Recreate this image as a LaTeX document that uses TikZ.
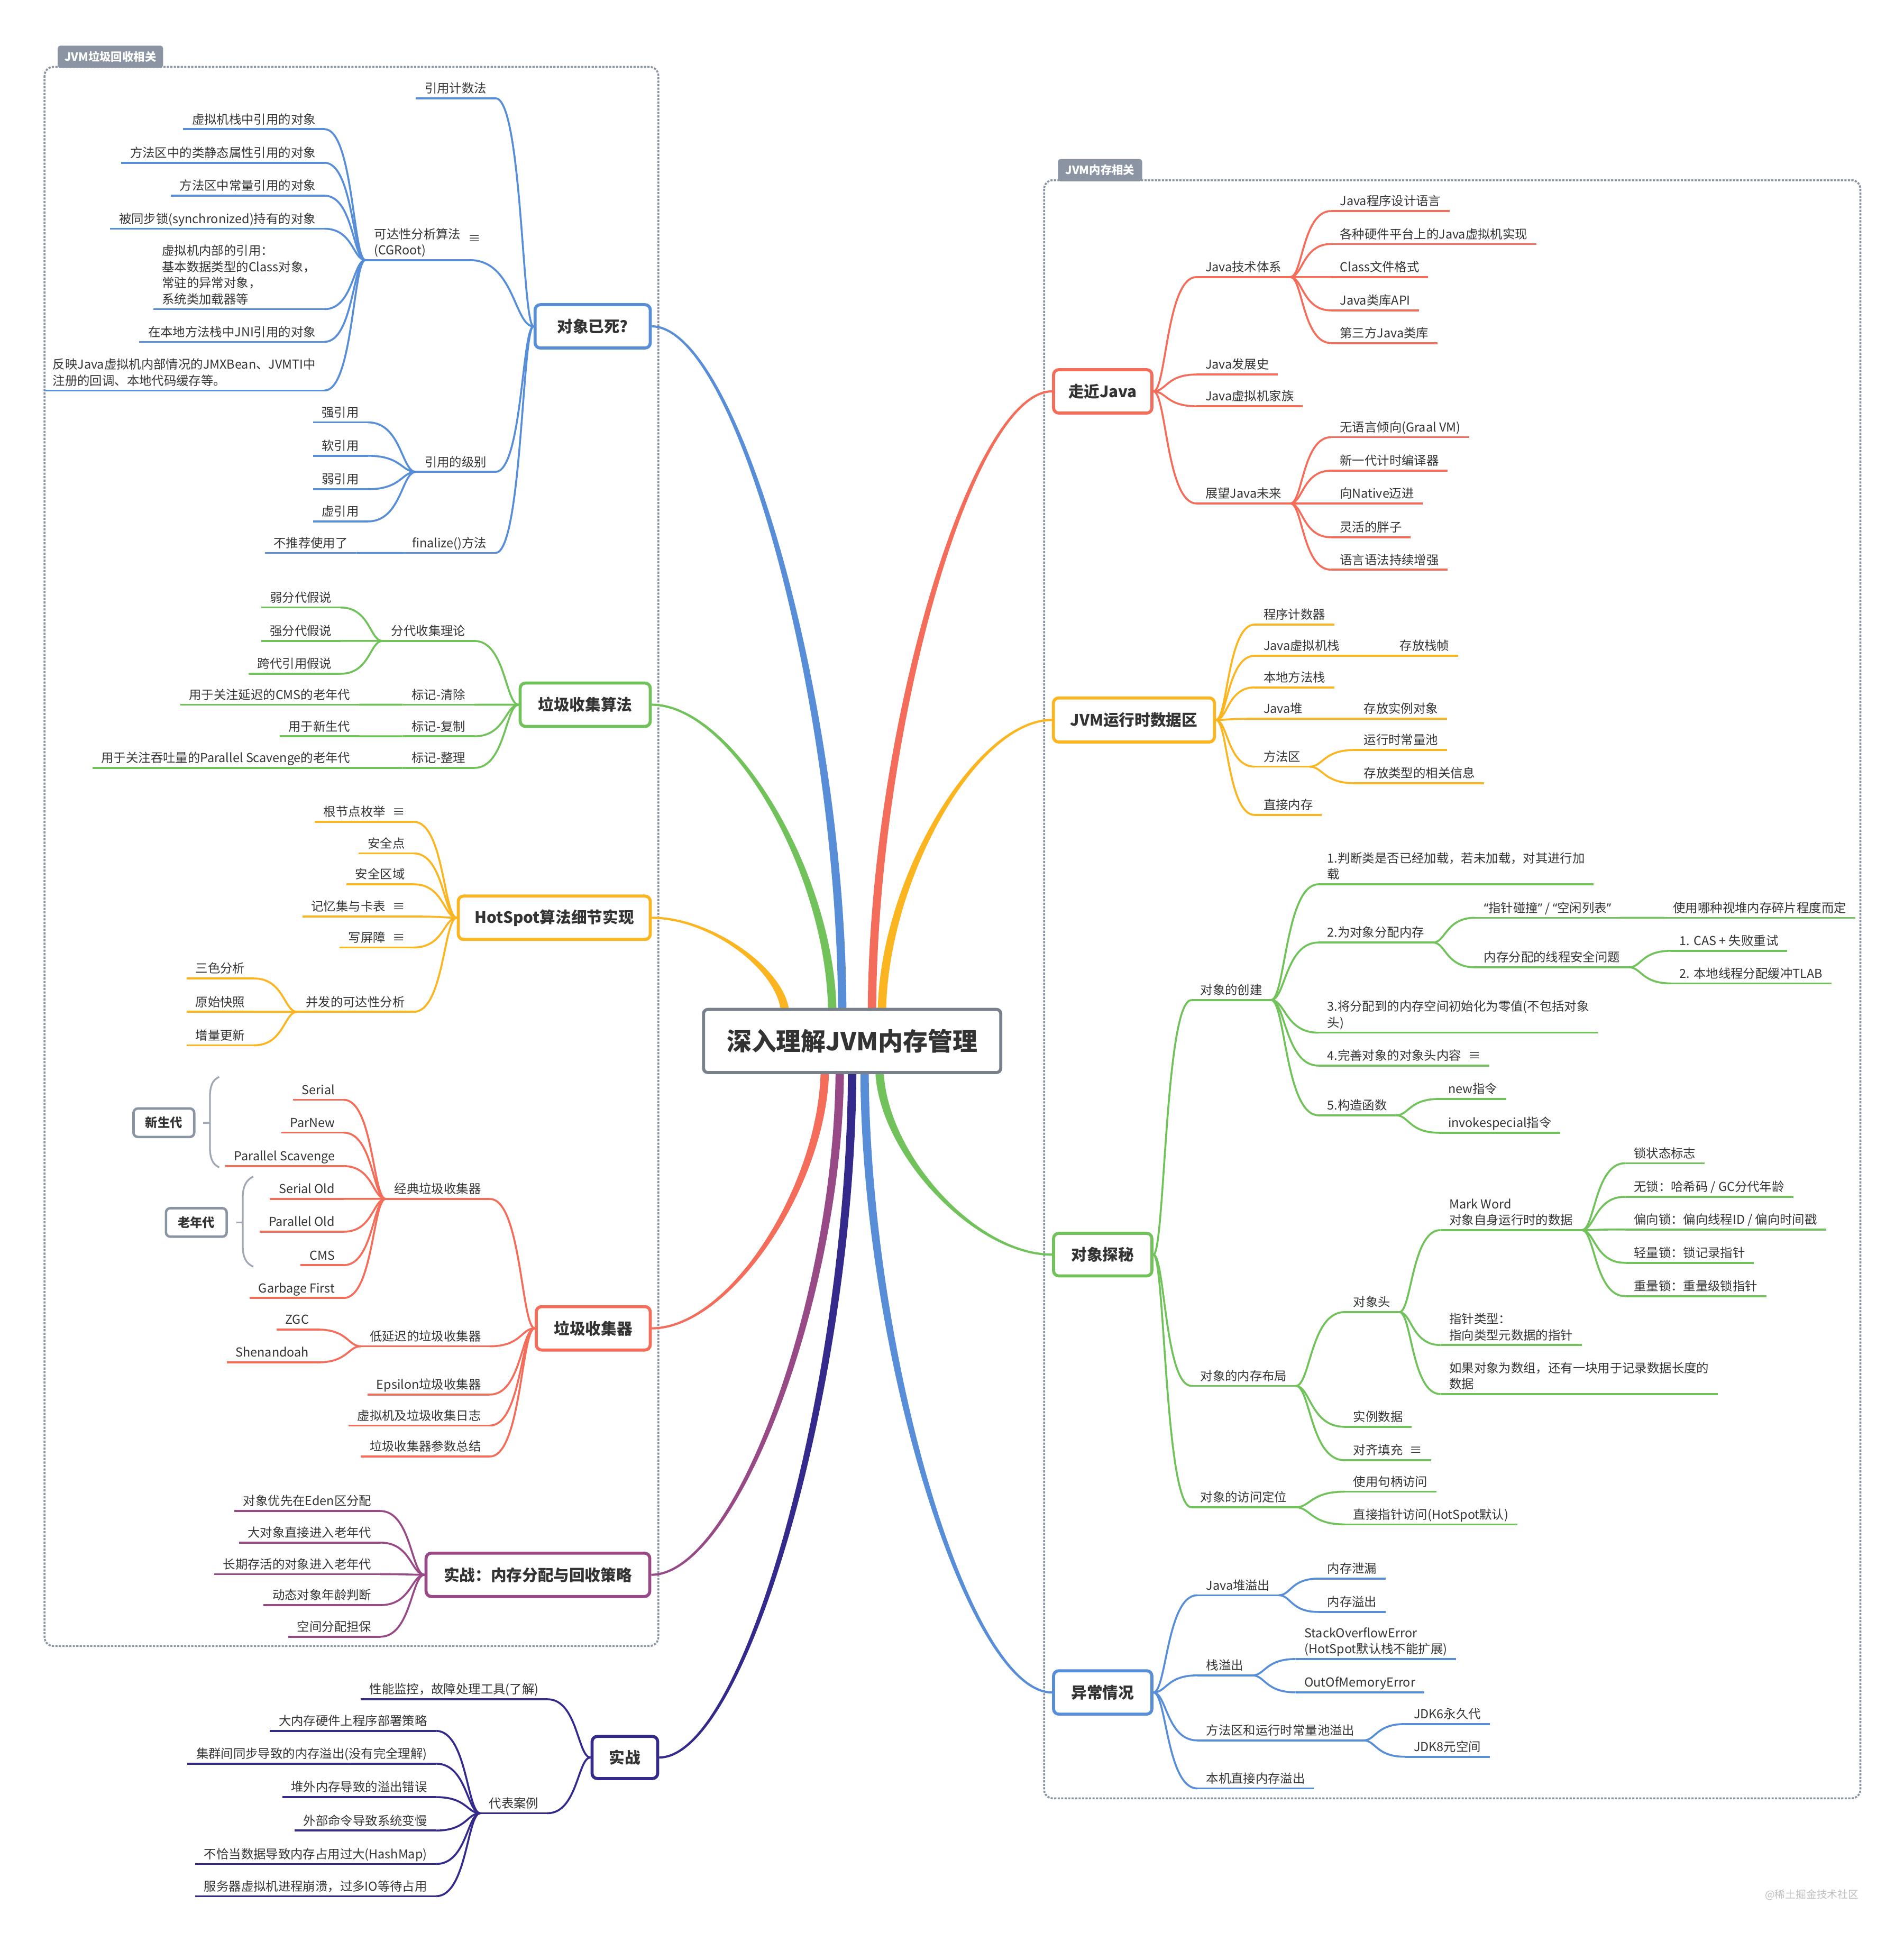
\documentclass[tikz,border=0pt]{standalone}
\usepackage{fontspec}
\setmainfont{Noto Sans CJK SC}
\newfontfamily\quotefont{Noto Sans}
\usepackage{xcolor}
\usepackage{tikz}
\usetikzlibrary{calc}
\definecolor{textgray}{RGB}{51, 51, 51}
\definecolor{framegray}{RGB}{138, 148, 162}
\definecolor{bracegray}{RGB}{160, 168, 180}
\definecolor{hubgray}{RGB}{120, 128, 140}
\definecolor{branchblue}{RGB}{88, 142, 215}
\definecolor{branchgreen}{RGB}{114, 194, 92}
\definecolor{branchorange}{RGB}{250, 181, 32}
\definecolor{branchred}{RGB}{244, 108, 90}
\definecolor{branchpurple}{RGB}{152, 74, 134}
\definecolor{branchindigo}{RGB}{52, 42, 140}
\newcommand\leaffont{\fontsize{14.2pt}{18.5pt}\selectfont}
\newcommand\topicfont{\fontsize{18pt}{22pt}\selectfont\bfseries}
\newcommand\hubfont{\fontsize{28.5pt}{34pt}\selectfont\bfseries}
\newcommand\tabfont{\fontsize{13pt}{15pt}\selectfont\bfseries}

\begin{document}
\begin{tikzpicture}[
    x=0.05cm, y=-0.05cm,
    leaf/.style={font=\leaffont, text=textgray, inner xsep=10pt, inner ysep=4pt, text depth=2pt,
                 append after command={(\tikzlastnode.south west) edge[underl] (\tikzlastnode.south east)}},
    leafL/.style={leaf, anchor=south east},
    leafR/.style={leaf, anchor=south west},
    underl/.style={draw, line width=2.2pt},
    branch/.style={draw, line width=2.2pt,
                   to path={.. controls ($(\tikztostart)!0.3!(\tikztostart-|\tikztotarget)$)
                            and ($(\tikztostart|-\tikztotarget)!0.3!(\tikztotarget)$) .. (\tikztotarget)}},
    trunkline/.style={line width=2.5pt,
                   to path={($(\tikztostart)+(-2.5,0)$)
                            .. controls ($(\tikztostart)!0.45!(\tikztostart|-\tikztotarget)+(-2.5,0)$)
                            and ($(\tikztotarget)!0.45!(\tikztotarget-|\tikztostart)$) .. (\tikztotarget)
                            .. controls ($(\tikztotarget)!0.45!(\tikztotarget-|\tikztostart)$)
                            and ($(\tikztostart)!0.45!(\tikztostart|-\tikztotarget)+(2.5,0)$) .. ($(\tikztostart)+(2.5,0)$) -- cycle}},
    topicbox/.style={draw, line width=3.5pt, rounded corners=6pt, fill=white, font=\topicfont,
                     text=textgray, minimum height=1.75cm},
    hubbox/.style={draw=hubgray, line width=3.5pt, rounded corners=5pt, fill=white, font=\hubfont,
                   text=textgray, minimum width=12cm, minimum height=2.55cm},
    agebox/.style={draw=framegray, line width=2.8pt, rounded corners=5pt, fill=white,
                   font=\leaffont\bfseries, text=textgray, minimum width=2.45cm, minimum height=1.15cm},
    genbracket/.style={draw=bracegray, line width=2pt},
    notemark/.style={font=\leaffont, text=textgray, inner sep=0pt},
    groupframe/.style={draw=framegray, line width=2.2pt, dash pattern=on 2.5pt off 1.5pt, rounded corners=10pt},
    grouptab/.style={fill=framegray, text=white, font=\tabfont, rounded corners=3pt, minimum height=0.9cm,
                     inner xsep=4pt, anchor=south west}
]
    \useasboundingbox (0,0) rectangle (1537,1568);

    % Group frames
    \draw[groupframe] (36,54) rectangle (531.5,1329);
    \draw[groupframe] (843,145.5) rectangle (1502,1452);
    \node[grouptab, minimum width=4.25cm] (tabgc) at (46.5,55) {JVM垃圾回收相关};
    \node[grouptab, minimum width=3.4cm] (tabmem) at (854,146.5) {JVM内存相关};

    % Object dead?
    \begin{scope}[color=branchblue]
    \node[topicbox, minimum width=4.65cm] (dead) at (478.5,263.5) {对象已死?};
    \node[leafL] (refcnt) at (400,79.3) {引用计数法};
    \node[leafR, align=left] (gcroot) at (295,210) {可达性分析算法\\(CGRoot)};
    \node[notemark] (gcnote) at (383,193) {≡};
    \node[leafL] (reflvl) at (400,381) {引用的级别};
    \node[leafL] (final) at (400,446.5) {finalize()方法};
    \node[leafL] (root1) at (262,104.3) {虚拟机栈中引用的对象};
    \node[leafL] (root2) at (262,131.4) {方法区中的类静态属性引用的对象};
    \node[leafL] (root3) at (262,158) {方法区中常量引用的对象};
    \node[leafL] (root4) at (262,184.7) {被同步锁(synchronized)持有的对象};
    \node[leafL, align=left] (root5) at (262,249.6) {虚拟机内部的引用：\\基本数据类型的Class对象，\\常驻的异常对象，\\系统类加载器等};
    \node[leafL] (root6) at (262,276) {在本地方法栈中JNI引用的对象};
    \node[leafL, align=left] (root7) at (262,315.3) {反映Java虚拟机内部情况的JMXBean、JVMTI中\\注册的回调、本地代码缓存等。};
    \node[leafL] (strong) at (297,341) {强引用};
    \node[leafL] (soft) at (297,368) {软引用};
    \node[leafL] (weak) at (297,395) {弱引用};
    \node[leafL] (phantom) at (297,421) {虚引用};
    \node[leafL] (nofinal) at (288,446.5) {不推荐使用了};
    \path (dead.west) edge[branch] (refcnt.south east) edge[branch] (gcroot.south east)
          edge[branch] (reflvl.south east) edge[branch] (final.south east);
    \path (gcroot.south west) edge[branch] (root1.south east) edge[branch] (root2.south east)
          edge[branch] (root3.south east) edge[branch] (root4.south east) edge[branch] (root5.south east)
          edge[branch] (root6.south east) edge[branch] (root7.south east);
    \path (reflvl.south west) edge[branch] (strong.south east) edge[branch] (soft.south east)
          edge[branch] (weak.south east) edge[branch] (phantom.south east);
    \path (final.south west) edge[branch] (nofinal.south east);
    \end{scope}

    % GC algorithms
    \begin{scope}[color=branchgreen]
    \node[topicbox, minimum width=5.25cm] (algo) at (472.5,569) {垃圾收集算法};
    \node[leafL] (gentheory) at (383,517.5) {分代收集理论};
    \node[leafL] (msweep) at (383,569) {标记-清除};
    \node[leafL] (mcopy) at (383,594.5) {标记-复制};
    \node[leafL] (mcompact) at (383,620) {标记-整理};
    \node[leafL] (weakgen) at (275,490.5) {弱分代假说};
    \node[leafL] (stronggen) at (275,517.5) {强分代假说};
    \node[leafL] (crossgen) at (275,544) {跨代引用假说};
    \node[leafL] (forcms) at (290,569) {用于关注延迟的CMS的老年代};
    \node[leafL] (foryoung) at (290,594.5) {用于新生代};
    \node[leafL] (forps) at (290,620) {用于关注吞吐量的Parallel Scavenge的老年代};
    \path (algo.west) edge[branch] (gentheory.south east) edge[branch] (msweep.south east)
          edge[branch] (mcopy.south east) edge[branch] (mcompact.south east);
    \path (gentheory.south west) edge[branch] (weakgen.south east) edge[branch] (stronggen.south east)
          edge[branch] (crossgen.south east);
    \path (msweep.south west) edge[branch] (forcms.south east);
    \path (mcopy.south west) edge[branch] (foryoung.south east);
    \path (mcompact.south west) edge[branch] (forps.south east);
    \end{scope}

    % HotSpot details
    \begin{scope}[color=branchorange]
    \node[topicbox, minimum width=7.75cm] (hotspot) at (447.5,741) {HotSpot算法细节实现};
    \node[leafL] (rootenum) at (334,663.5) {根节点枚举\hspace{8pt}≡};
    \node[leafL] (safept) at (334,689) {安全点};
    \node[leafL] (safereg) at (334,714) {安全区域};
    \node[leafL] (remset) at (334,740) {记忆集与卡表\hspace{8pt}≡};
    \node[leafL] (wbarrier) at (334,765) {写屏障\hspace{8pt}≡};
    \node[leafL] (concur) at (334,817) {并发的可达性分析};
    \node[leafL] (tricolor) at (205,790) {三色分析};
    \node[leafL] (snapshot) at (205,817) {原始快照};
    \node[leafL] (incupd) at (205,844) {增量更新};
    \path (hotspot.west) edge[branch] (rootenum.south east) edge[branch] (safept.south east)
          edge[branch] (safereg.south east) edge[branch] (remset.south east)
          edge[branch] (wbarrier.south east) edge[branch] (concur.south east);
    \path (concur.south west) edge[branch] (tricolor.south east) edge[branch] (snapshot.south east)
          edge[branch] (incupd.south east);
    \end{scope}

    % Garbage collectors
    \begin{scope}[color=branchred]
    \node[topicbox, minimum width=4.6cm] (collector) at (479,1072.5) {垃圾收集器};
    \node[leafL] (classic) at (395.5,968) {经典垃圾收集器};
    \node[leafL] (lowlat) at (395.5,1087) {低延迟的垃圾收集器};
    \node[leafL] (epsilon) at (395.5,1126) {Epsilon垃圾收集器};
    \node[leafL] (gclog) at (395.5,1151) {虚拟机及垃圾收集日志};
    \node[leafL] (gcparam) at (395.5,1176) {垃圾收集器参数总结};
    \node[leafL] (serial) at (277.5,888) {Serial};
    \node[leafL] (parnew) at (277.5,914.5) {ParNew};
    \node[leafL] (pscav) at (277.5,941.5) {Parallel Scavenge};
    \node[leafL] (serialold) at (277.5,968) {Serial Old};
    \node[leafL] (parold) at (277.5,994.5) {Parallel Old};
    \node[leafL] (cms) at (277.5,1021.5) {CMS};
    \node[leafL] (gfirst) at (277.5,1048) {Garbage First};
    \node[leafL] (zgc) at (256.5,1073.5) {ZGC};
    \node[leafL] (shen) at (256.5,1100) {Shenandoah};
    \path (collector.west) edge[branch] (classic.south east) edge[branch] (lowlat.south east)
          edge[branch] (epsilon.south east) edge[branch] (gclog.south east) edge[branch] (gcparam.south east);
    \path (classic.south west) edge[branch] (serial.south east) edge[branch] (parnew.south east)
          edge[branch] (pscav.south east) edge[branch] (serialold.south east) edge[branch] (parold.south east)
          edge[branch] (cms.south east) edge[branch] (gfirst.south east);
    \path (lowlat.south west) edge[branch] (zgc.south east) edge[branch] (shen.south east);
    % generations
    \node[agebox] (young) at (132.3,906.5) {新生代};
    \node[agebox] (old) at (158.5,987) {老年代};
    \coordinate (youngtip) at (169.5,906.5);
    \coordinate (oldtip) at (196,987);
    \draw[genbracket] (177,869.5) .. controls (171,872) and (169.5,878) .. (169.5,886) -- (169.5,926)
        .. controls (169.5,934) and (171,940) .. (177,942.5);
    \draw[genbracket] (204.5,950) .. controls (198,953) and (196,959) .. (196,967) -- (196,1006)
        .. controls (196,1014) and (198,1020) .. (204.5,1022.7);
    \draw[genbracket, shorten <=9pt] (young.east) -- (youngtip);
    \draw[genbracket, shorten <=10pt] (old.east) -- (oldtip);
    \end{scope}

    % Allocation practice
    \begin{scope}[color=branchpurple]
    \node[topicbox, minimum width=9.03cm] (alloc) at (434.3,1271.5) {实战：内存分配与回收策略};
    \node[leafL] (eden) at (307,1220) {对象优先在Eden区分配};
    \node[leafL] (bigobj) at (307,1245.5) {大对象直接进入老年代};
    \node[leafL] (longlive) at (307,1271) {长期存活的对象进入老年代};
    \node[leafL] (dynage) at (307,1296) {动态对象年龄判断};
    \node[leafL] (guarantee) at (307,1321.5) {空间分配担保};
    \path (alloc.west) edge[branch] (eden.south east) edge[branch] (bigobj.south east)
          edge[branch] (longlive.south east) edge[branch] (dynage.south east) edge[branch] (guarantee.south east);
    \end{scope}

    % Practice
    \begin{scope}[color=branchindigo]
    \node[topicbox, minimum width=2.65cm, minimum height=1.7cm] (practice) at (504.5,1419) {实战};
    \node[leafL] (perf) at (442,1372) {性能监控，故障处理工具(了解)};
    \node[leafL] (cases) at (442,1464) {代表案例};
    \node[leafL] (case1) at (352,1397.5) {大内存硬件上程序部署策略};
    \node[leafL] (case2) at (352,1424) {集群间同步导致的内存溢出(没有完全理解)};
    \node[leafL] (case3) at (352,1451) {堆外内存导致的溢出错误};
    \node[leafL] (case4) at (352,1478) {外部命令导致系统变慢};
    \node[leafL] (case5) at (352,1505) {不恰当数据导致内存占用过大(HashMap)};
    \node[leafL] (case6) at (352,1531) {服务器虚拟机进程崩溃，过多IO等待占用};
    \path (practice.west) edge[branch] (perf.south east) edge[branch] (cases.south east);
    \path (cases.south west) edge[branch] (case1.south east) edge[branch] (case2.south east)
          edge[branch] (case3.south east) edge[branch] (case4.south east) edge[branch] (case5.south east)
          edge[branch] (case6.south east);
    \end{scope}

    % Getting to know Java
    \begin{scope}[color=branchred]
    \node[topicbox, minimum width=3.97cm] (java) at (890.3,316) {走近Java};
    \node[leafR] (techsys) at (966,223.7) {Java技术体系};
    \node[leafR] (history) at (966,302.4) {Java发展史};
    \node[leafR] (vmfamily) at (966,328) {Java虚拟机家族};
    \node[leafR] (future) at (966,406.5) {展望Java未来};
    \node[leafR] (lang) at (1074.7,170.4) {Java程序设计语言};
    \node[leafR] (vmimpl) at (1074.7,197) {各种硬件平台上的Java虚拟机实现};
    \node[leafR] (classfmt) at (1074.7,223.7) {Class文件格式};
    \node[leafR] (api) at (1074.7,250.6) {Java类库API};
    \node[leafR] (thirdlib) at (1074.7,277) {第三方Java类库};
    \node[leafR] (graal) at (1074.7,353) {无语言倾向(Graal VM)};
    \node[leafR] (jit) at (1074.7,380) {新一代计时编译器};
    \node[leafR] (native) at (1074.7,406.5) {向Native迈进};
    \node[leafR] (fatty) at (1074.7,433.8) {灵活的胖子};
    \node[leafR] (syntax) at (1074.7,460) {语言语法持续增强};
    \path (java.east) edge[branch] (techsys.south west) edge[branch] (history.south west)
          edge[branch] (vmfamily.south west) edge[branch] (future.south west);
    \path (techsys.south east) edge[branch] (lang.south west) edge[branch] (vmimpl.south west)
          edge[branch] (classfmt.south west) edge[branch] (api.south west) edge[branch] (thirdlib.south west);
    \path (future.south east) edge[branch] (graal.south west) edge[branch] (jit.south west)
          edge[branch] (native.south west) edge[branch] (fatty.south west) edge[branch] (syntax.south west);
    \end{scope}

    % Runtime data areas
    \begin{scope}[color=branchorange]
    \node[topicbox, minimum width=6.5cm, minimum height=1.78cm] (rtdata) at (915.5,581.3) {JVM运行时数据区};
    \node[leafR] (pcreg) at (1013,504.3) {程序计数器};
    \node[leafR] (vmstack) at (1013,529.5) {Java虚拟机栈};
    \node[leafR] (frames) at (1123,529.5) {存放栈帧};
    \node[leafR] (natstack) at (1013,555) {本地方法栈};
    \node[leafR] (heap) at (1013,580.3) {Java堆};
    \node[leafR] (instobj) at (1094,580.3) {存放实例对象};
    \node[leafR] (metharea) at (1013,619) {方法区};
    \node[leafR] (cpool) at (1094,605.5) {运行时常量池};
    \node[leafR] (typeinfo) at (1094,632.4) {存放类型的相关信息};
    \node[leafR] (direct) at (1013,658) {直接内存};
    \path (rtdata.east) edge[branch] (pcreg.south west) edge[branch] (vmstack.south west)
          edge[branch] (natstack.south west) edge[branch] (heap.south west)
          edge[branch] (metharea.south west) edge[branch] (direct.south west);
    \path (vmstack.south east) edge[branch] (frames.south west);
    \path (heap.south east) edge[branch] (instobj.south west);
    \path (metharea.south east) edge[branch] (cpool.south west) edge[branch] (typeinfo.south west);
    \end{scope}

    % Objects
    \begin{scope}[color=branchgreen]
    \node[topicbox, minimum width=3.97cm, minimum height=1.72cm] (objsec) at (890.3,1013) {对象探秘};
    \node[leafR] (create) at (962,807.4) {对象的创建};
    \node[leafR] (layout) at (962,1119) {对象的内存布局};
    \node[leafR] (access) at (962,1217) {对象的访问定位};
    \node[leafR, align=left] (step1) at (1064.5,714) {1.判断类是否已经加载，若未加载，对其进行加\\载};
    \node[leafR] (step2) at (1064.5,761) {2.为对象分配内存};
    \node[leafR, align=left] (step3) at (1064.5,833.8) {3.将分配到的内存空间初始化为零值(不包括对象\\头)};
    \node[leafR] (step4) at (1064.5,860.4) {4.完善对象的对象头内容\hspace{8pt}≡};
    \node[leafR] (step5) at (1064.5,900.5) {5.构造函数};
    \node[leafR] (bump) at (1191,741) {{\quotefont “}指针碰撞{\quotefont ”} / {\quotefont “}空闲列表{\quotefont ”}};
    \node[leafR] (bumpdep) at (1343.7,741) {使用哪种视堆内存碎片程度而定};
    \node[leafR] (tsafe) at (1191,781) {内存分配的线程安全问题};
    \node[leafR] (casretry) at (1349,767.7) {1. CAS + 失败重试};
    \node[leafR] (tlab) at (1349,794) {2. 本地线程分配缓冲TLAB};
    \node[leafR] (newins) at (1162,887.3) {new指令};
    \node[leafR] (invoke) at (1162,914.6) {invokespecial指令};
    \node[leafR] (header) at (1085.5,1059.4) {对象头};
    \node[leafR] (instdata) at (1085.5,1152) {实例数据};
    \node[leafR] (padding) at (1085.5,1179) {对齐填充\hspace{8pt}≡};
    \node[leafR, align=left] (markword) at (1163,993.2) {Mark Word\\对象自身运行时的数据};
    \node[leafR, align=left] (klass) at (1163,1086) {指针类型：\\指向类型元数据的指针};
    \node[leafR, align=left] (arrlen) at (1163,1125.6) {如果对象为数组，还有一块用于记录数据长度的\\数据};
    \node[leafR] (lockflag) at (1312,939.2) {锁状态标志};
    \node[leafR] (nolock) at (1312,966.3) {无锁：哈希码 / GC分代年龄};
    \node[leafR] (biased) at (1312,992.7) {偏向锁：偏向线程ID / 偏向时间戳};
    \node[leafR] (light) at (1312,1019.6) {轻量锁：锁记录指针};
    \node[leafR] (heavy) at (1312,1046.5) {重量锁：重量级锁指针};
    \node[leafR] (handle) at (1085.5,1204.4) {使用句柄访问};
    \node[leafR] (dirptr) at (1085.5,1230.8) {直接指针访问(HotSpot默认)};
    \path (objsec.east) edge[branch] (create.south west) edge[branch] (layout.south west)
          edge[branch] (access.south west);
    \path (create.south east) edge[branch] (step1.south west) edge[branch] (step2.south west)
          edge[branch] (step3.south west) edge[branch] (step4.south west) edge[branch] (step5.south west);
    \path (step2.south east) edge[branch] (bump.south west) edge[branch] (tsafe.south west);
    \path (bump.south east) edge[branch] (bumpdep.south west);
    \path (tsafe.south east) edge[branch] (casretry.south west) edge[branch] (tlab.south west);
    \path (step5.south east) edge[branch] (newins.south west) edge[branch] (invoke.south west);
    \path (layout.south east) edge[branch] (header.south west) edge[branch] (instdata.south west)
          edge[branch] (padding.south west);
    \path (header.south east) edge[branch] (markword.south west) edge[branch] (klass.south west)
          edge[branch] (arrlen.south west);
    \path (markword.south east) edge[branch] (lockflag.south west) edge[branch] (nolock.south west)
          edge[branch] (biased.south west) edge[branch] (light.south west) edge[branch] (heavy.south west);
    \path (access.south east) edge[branch] (handle.south west) edge[branch] (dirptr.south west);
    \end{scope}

    % Exceptions
    \begin{scope}[color=branchblue]
    \node[topicbox, minimum width=3.97cm] (except) at (890.3,1366.5) {异常情况};
    \node[leafR] (heapoom) at (966.7,1288) {Java堆溢出};
    \node[leafR] (stackoom) at (966.7,1352.7) {栈溢出};
    \node[leafR] (methoom) at (966.7,1405.2) {方法区和运行时常量池溢出};
    \node[leafR] (directoom) at (966.7,1444) {本机直接内存溢出};
    \node[leafR] (leak) at (1064.5,1274.6) {内存泄漏};
    \node[leafR] (overflow) at (1064.5,1301.5) {内存溢出};
    \node[leafR, align=left] (soe) at (1046,1339.5) {StackOverflowError\\(HotSpot默认栈不能扩展)};
    \node[leafR] (oome) at (1046,1366.4) {OutOfMemoryError};
    \node[leafR] (jdk6) at (1134.3,1392) {JDK6永久代};
    \node[leafR] (jdk8) at (1134.3,1418.4) {JDK8元空间};
    \path (except.east) edge[branch] (heapoom.south west) edge[branch] (stackoom.south west)
          edge[branch] (methoom.south west) edge[branch] (directoom.south west);
    \path (heapoom.south east) edge[branch] (leak.south west) edge[branch] (overflow.south west);
    \path (stackoom.south east) edge[branch] (soe.south west) edge[branch] (oome.south west);
    \path (methoom.south east) edge[branch] (jdk6.south west) edge[branch] (jdk8.south west);
    \end{scope}

    % Trunks from the central topic
    \coordinate (topdead) at (680,820);
    \coordinate (topalgo) at (672,820);
    \coordinate (tophs) at (634,820);
    \coordinate (topjava) at (704,820);
    \coordinate (toprt) at (712,820);
    \coordinate (botgc) at (666,861);
    \coordinate (botalloc) at (678,861);
    \coordinate (botprac) at (688,861);
    \coordinate (botexc) at (698,861);
    \coordinate (botobj) at (710,861);
    \filldraw[trunkline, branchblue] (topdead) to (dead.east);
    \filldraw[trunkline, branchgreen] (topalgo) to (algo.east);
    \filldraw[trunkline, branchorange] (tophs) to (hotspot.east);
    \filldraw[trunkline, branchred] (topjava) to (java.west);
    \filldraw[trunkline, branchorange] (toprt) to (rtdata.west);
    \filldraw[trunkline, branchred] (botgc) to (collector.east);
    \filldraw[trunkline, branchpurple] (botalloc) to (alloc.east);
    \filldraw[trunkline, branchindigo] (botprac) to (practice.east);
    \filldraw[trunkline, branchblue] (botexc) to (except.west);
    \filldraw[trunkline, branchgreen] (botobj) to (objsec.west);

    \node[hubbox] (title) at (688,840.5) {深入理解JVM内存管理};
    \node[anchor=east, font=\fontsize{12pt}{14pt}\selectfont, text=black!25] (mark) at (1503,1530) {@稀土掘金技术社区};
\end{tikzpicture}
\end{document}
